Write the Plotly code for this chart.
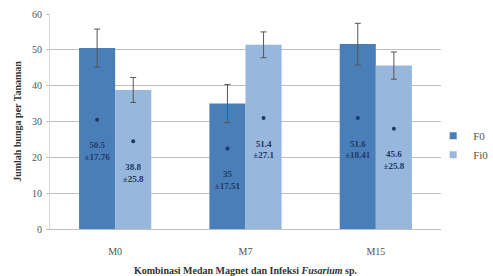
import plotly.graph_objects as go

categories = ["M0", "M7", "M15"]
f0_values = [50.5, 35.0, 51.6]
fi0_values = [38.8, 51.4, 45.6]
f0_err = [5.3, 5.3, 5.8]
fi0_err = [3.5, 3.6, 3.8]
f0_labels = ["50.5<br>±17.76", "35<br>±17.51", "51.6<br>±18.41"]
fi0_labels = ["38.8<br>±25.8", "51.4<br>±27.1", "45.6<br>±25.8"]
f0_dots = [30.5, 22.5, 31.0]
fi0_dots = [24.5, 31.0, 28.0]
y_ticks = [0, 10, 20, 30, 40, 50, 60]

font_family = "Liberation Serif, Times New Roman, serif"
c_f0 = "#4a7eb9"
c_fi0 = "#98b7dc"
label_color = "#1f3864"
LABEL_GAP = 9  # label sits this far (in axis units) below its marker

fig = go.Figure()
fig.add_trace(go.Bar(
    x=categories, y=f0_values, name="F0", marker=dict(color=c_f0, line=dict(width=0)),
    error_y=dict(type="data", array=f0_err, color="#555555", thickness=1, width=3),
    offsetgroup="a", showlegend=False,
))
fig.add_trace(go.Bar(
    x=categories, y=fi0_values, name="Fi0", marker=dict(color=c_fi0, line=dict(width=0)),
    error_y=dict(type="data", array=fi0_err, color="#555555", thickness=1, width=3),
    offsetgroup="b", showlegend=False,
))
for dots, labels, grp in ((f0_dots, f0_labels, "a"), (fi0_dots, fi0_labels, "b")):
    fig.add_trace(go.Scatter(
        x=categories, y=dots, mode="markers", offsetgroup=grp, showlegend=False,
        marker=dict(color=label_color, size=4), hoverinfo="skip",
    ))
    fig.add_trace(go.Scatter(
        x=categories, y=[d - LABEL_GAP for d in dots], mode="text", offsetgroup=grp,
        showlegend=False, hoverinfo="skip",
        text=["<b>" + t + "</b>" for t in labels], textposition="middle center",
        textfont=dict(family=font_family, size=9, color=label_color),
    ))
# legend entries with small square swatches
for name, col in (("F0", c_f0), ("Fi0", c_fi0)):
    fig.add_trace(go.Scatter(
        x=[None], y=[None], mode="markers", name=name,
        marker=dict(symbol="square", size=7, color=col),
    ))

fig.update_layout(
    width=493, height=276,
    margin=dict(l=50, r=52, t=14, b=47, autoexpand=False),
    paper_bgcolor="white", plot_bgcolor="white",
    barmode="group", bargap=0.446, bargroupgap=0, scattermode="group",
    font=dict(family=font_family, color="#555555", size=10),
    legend=dict(x=0.98, y=0.39, xanchor="left", yanchor="middle",
                font=dict(family=font_family, size=11, color="#555555"),
                itemwidth=30, bgcolor="rgba(0,0,0,0)"),
    xaxis=dict(
        title=dict(text="<b>Kombinasi Medan Magnet dan Infeksi <i>Fusarium</i> sp.</b>",
                   font=dict(family=font_family, size=10, color="#333333"), standoff=10),
        showline=True, linecolor="#bfbfbf", linewidth=1, ticks="", automargin=False,
        ticklabelstandoff=13,
        tickfont=dict(family=font_family, size=10, color="#555555"),
    ),
    yaxis=dict(
        title=dict(text="<b>Jumlah bunga per Tanaman</b>",
                   font=dict(family=font_family, size=10, color="#333333"), standoff=8),
        range=[0, 60], tickvals=y_ticks, showgrid=True, gridcolor="#bfbfbf", gridwidth=1,
        showline=True, linecolor="#d9d9d9", ticks="outside", ticklen=3, tickcolor="#bfbfbf",
        zeroline=False, automargin=False, ticklabelstandoff=2,
        tickfont=dict(family=font_family, size=10, color="#555555"),
    ),
)

fig.write_html("out.html", config={"displayModeBar": False},
               post_script="document.body.style.margin='0';")
